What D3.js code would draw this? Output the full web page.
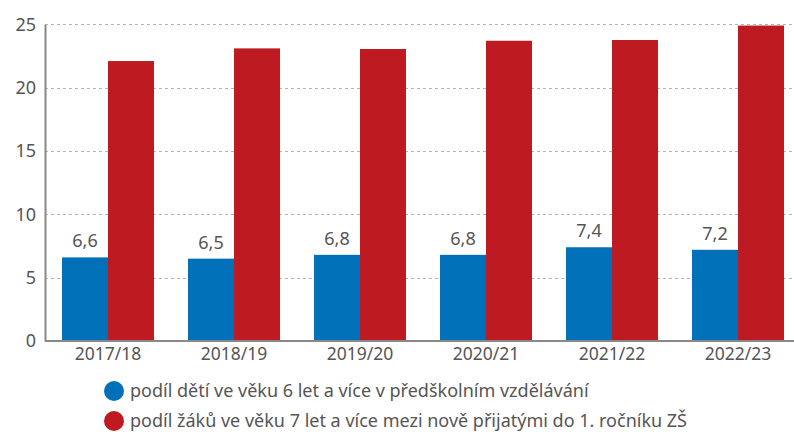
<!DOCTYPE html>
<html>
<head>
<meta charset="utf-8">
<script src="https://cdn.jsdelivr.net/npm/d3@7"></script>
<style>
  body { margin: 0; background: #fff; }
  svg { display: block; }
  text { font-family: "Noto Sans", "Open Sans", sans-serif; fill: #555; }
</style>
</head>
<body>
<div class="chart"></div>
<script>
var categories = ["2017/18", "2018/19", "2019/20", "2020/21", "2021/22", "2022/23"];
var preschool = [6.6, 6.5, 6.8, 6.8, 7.4, 7.2];
var firstGrade = [22.1, 23.1, 23.05, 23.7, 23.76, 24.9];
var yTicks = [0, 5, 10, 15, 20, 25];
var seriesNames = [
  "podíl dětí ve věku 6 let a více v předškolním vzdělávání",
  "podíl žáků ve věku 7 let a více mezi nově přijatými do 1. ročníku ZŠ"
];
var colors = ["#0070b8", "#be1a21"];

var width = 794, height = 432;
var margin = {top: 24, left: 45, bottom: 91};
var plotBottom = height - margin.bottom;

var svg = d3.select(".chart").append("svg")
    .attr("width", width)
    .attr("height", height);

var x = d3.scaleBand()
    .domain(categories)
    .range([margin.left, 801])
    .paddingInner(0.27)
    .paddingOuter(0.135);

var xs = d3.scaleBand()
    .domain([0, 1])
    .range([0, x.bandwidth()]);

var y = d3.scaleLinear()
    .domain([0, 25])
    .range([plotBottom, margin.top + 0.3]);

// grid lines
svg.append("g")
  .selectAll("line")
  .data(yTicks.slice(1))
  .enter().append("line")
    .attr("x1", margin.left)
    .attr("x2", width)
    .attr("y1", function(d) { return Math.round(y(d)) + 0.5; })
    .attr("y2", function(d) { return Math.round(y(d)) + 0.5; })
    .attr("stroke", "#b3b3b3")
    .attr("stroke-width", 1)
    .attr("stroke-dasharray", "3,3");

var data = categories.map(function(c, i) {
  return {cat: c, vals: [preschool[i], firstGrade[i]]};
});

var groups = svg.selectAll(".grp")
    .data(data)
  .enter().append("g")
    .attr("transform", function(d) { return "translate(" + x(d.cat) + ",0)"; });

groups.selectAll("rect")
    .data(function(d) { return d.vals; })
  .enter().append("rect")
    .attr("x", function(d, i) { return xs(i); })
    .attr("width", xs.bandwidth())
    .attr("y", function(d) { return y(d); })
    .attr("height", function(d) { return plotBottom - y(d); })
    .attr("fill", function(d, i) { return colors[i]; });

// labels on the blue bars
groups.append("text")
    .attr("x", xs(0) + xs.bandwidth() / 2)
    .attr("y", function(d) { return y(d.vals[0]) - 10; })
    .attr("text-anchor", "middle")
    .style("font-size", "18px")
    .text(function(d) { return d.vals[0].toFixed(1).replace(".", ","); });

// y axis
var yAxis = svg.append("g")
    .attr("transform", "translate(" + margin.left + ",0)")
    .call(d3.axisLeft(y).tickValues(yTicks).tickSize(0).tickPadding(9));
yAxis.select(".domain").attr("stroke", "#888").attr("stroke-width", 2);
yAxis.selectAll("text").style("font-size", "18px").style("fill", "#555").style("font-family", "Noto Sans");

// x axis
var xAxis = svg.append("g")
    .attr("transform", "translate(0," + plotBottom + ")")
    .call(d3.axisBottom(x).tickSize(0).tickPadding(7));
xAxis.select(".domain").attr("stroke", "#888").attr("stroke-width", 2)
    .attr("d", "M" + margin.left + ",0H" + width);
xAxis.selectAll("text").style("font-size", "17.5px").style("fill", "#555").style("font-family", "Noto Sans");

// legend
var legend = svg.selectAll(".leg")
    .data(seriesNames)
  .enter().append("g")
    .attr("transform", function(d, i) { return "translate(114," + (391 + i * 30) + ")"; });

legend.append("circle")
    .attr("r", 10)
    .attr("fill", function(d, i) { return colors[i]; });

legend.append("text")
    .attr("x", 16)
    .attr("dy", "0.35em")
    .style("font-size", "18px")
    .text(function(d) { return d; });
</script>
</body>
</html>
